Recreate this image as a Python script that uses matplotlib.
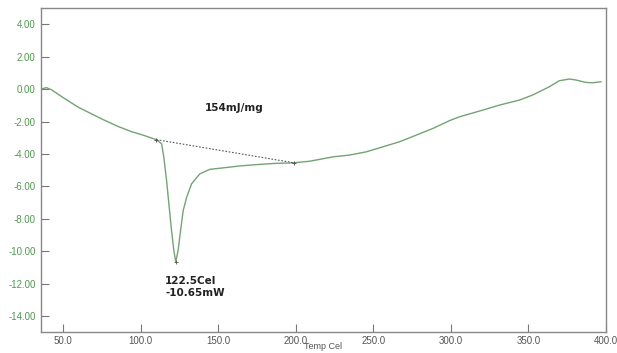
import matplotlib
matplotlib.use("Agg")
import matplotlib.pyplot as plt

# DSC trace (Temp in Cel, heat flow in mW)
temp = [35.8, 39.1, 42.3, 50.9, 59.5, 68.0, 76.7, 85.2, 93.8, 102.4,
        109.9, 113.4, 114.8, 116.6, 118.3, 119.8, 121.3, 122.5, 124.0, 125.6,
        127.3, 129.5, 132.7, 138.0, 144.5, 153.0, 163.8, 174.5, 185.2, 198.1,
        208.9, 223.9, 234.6, 245.4, 256.1, 266.8, 277.6, 288.3, 299.0, 305.5,
        320.4, 331.2, 344.1, 352.6, 363.4, 369.8, 376.3, 380.6, 387.0, 391.3,
        396.7]
flow = [0.0, 0.09, -0.04, -0.59, -1.11, -1.52, -1.93, -2.30, -2.62, -2.87,
        -3.12, -3.37, -4.19, -5.65, -7.30, -8.74, -9.97, -10.65, -9.97, -8.74,
        -7.50, -6.68, -5.85, -5.23, -4.95, -4.86, -4.74, -4.66, -4.59, -4.55,
        -4.45, -4.18, -4.07, -3.87, -3.56, -3.25, -2.84, -2.43, -1.95, -1.71,
        -1.30, -0.99, -0.68, -0.37, 0.14, 0.51, 0.62, 0.56, 0.41, 0.39,
        0.45]

# integration baseline
base_t = [110.0, 199.0]
base_y = [-3.12, -4.55]

peak_t = 122.5
peak_y = -10.65
enthalpy = "154mJ/mg"

xticks = [50, 100, 150, 200, 250, 300, 350, 400]
yticks = [4, 2, 0, -2, -4, -6, -8, -10, -12, -14]

plt.rcParams["font.family"] = ["Liberation Sans", "DejaVu Sans"]

fig = plt.figure(figsize=(6.17, 3.53), dpi=100)
ax = fig.add_axes([41 / 617, 1 - 332.3 / 353, 565 / 617, 324.3 / 353])

ax.plot(temp, flow, color="#72a472", lw=1.0)
ax.plot(base_t, base_y, color="#555555", lw=0.8, ls=(0, (1.5, 1.5)),
        marker="+", ms=3, mew=0.7)
ax.plot([peak_t], [peak_y], marker="+", color="#555555", ms=2.5, mew=0.6)

ax.text(160.4, -1.15, enthalpy, ha="center", va="center", fontsize=7.5,
        fontweight="bold", family="DejaVu Sans", color="#222222")
ax.text(115.6, -11.55, f"{peak_t}Cel\n{peak_y}mW", ha="left", va="top",
        fontsize=7.5, fontweight="bold", family="DejaVu Sans",
        color="#222222", linespacing=1.15)

ax.set_xlim(35.6, 399.4)
ax.set_ylim(-15, 5)
ax.set_xticks(xticks)
ax.set_xticklabels([f"{v:.1f}" for v in xticks])
ax.set_yticks(yticks)
ax.set_yticklabels([f"{v:.2f}" for v in yticks])

ax.tick_params(axis="both", direction="in", length=6, width=0.8,
               color="#777777", labelsize=7)
ax.tick_params(axis="y", labelcolor="#4f9a4f", pad=4)
ax.tick_params(axis="x", labelcolor="#555555", pad=3)

for s in ax.spines.values():
    s.set_color("#888888")
    s.set_linewidth(1.0)

ax.set_xlabel("Temp Cel", fontsize=6.5, color="#555555", labelpad=-3)

fig.savefig("out.png", dpi=100)
